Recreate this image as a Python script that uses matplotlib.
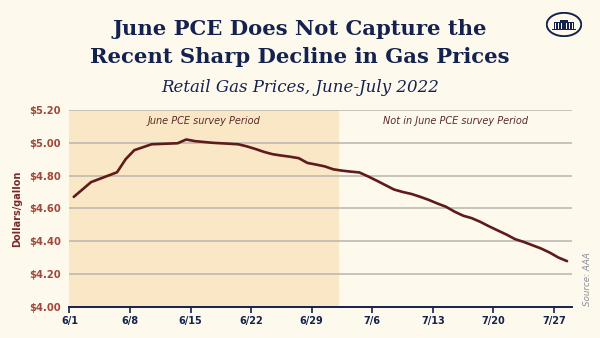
import numpy as np
import matplotlib.pyplot as plt
from matplotlib.patches import Ellipse, Rectangle

# AAA national average retail gas price, daily 6/1 - 7/28 (2022)
days = np.arange(58)
prices = [4.67, 4.715, 4.76, 4.78, 4.80, 4.82, 4.90, 4.955, 4.973, 4.991,
          4.993, 4.995, 4.997, 5.02, 5.01, 5.005, 5.00, 4.997, 4.994, 4.991,
          4.978, 4.962, 4.944, 4.93, 4.922, 4.915, 4.906, 4.877, 4.867, 4.856,
          4.838, 4.83, 4.824, 4.819, 4.795, 4.769, 4.742, 4.715, 4.70, 4.688,
          4.671, 4.652, 4.63, 4.61, 4.58, 4.555, 4.54, 4.517, 4.49, 4.465,
          4.44, 4.412, 4.395, 4.375, 4.355, 4.33, 4.30, 4.278]
tick_days = [0, 7, 14, 21, 28, 35, 42, 49, 56]
tick_labels = ["6/1", "6/8", "6/15", "6/22", "6/29", "7/6", "7/13", "7/20", "7/27"]
y_ticks = [4.0, 4.2, 4.4, 4.6, 4.8, 5.0, 5.2]
survey_end = 31.2

BG = "#FDF9EC"
SHADE = "#FAE7C6"
NAVY = "#14224F"
MAROON = "#5E1A1C"
RUST = "#A0483C"
SANS = "DejaVu Sans"

fig = plt.figure(figsize=(6, 3.38), dpi=100, facecolor=BG)
ax = fig.add_axes([0.115, 0.0926, 0.838, 0.582])
ax.set_facecolor(BG)

ax.axvspan(0, survey_end, color=SHADE, lw=0, zorder=0)
for v in y_ticks[1:]:
    ax.axhline(v, color="#B9B5AE", lw=1.1, zorder=1)

# prices are midday readings
ax.plot(days + 0.5, prices, color=MAROON, lw=1.9, zorder=3,
        solid_joinstyle="round", solid_capstyle="round")

ax.set_xlim(-0.05, 58.05)
ax.set_ylim(4.0, 5.2)
ax.set_xticks(tick_days)
ax.set_xticklabels(tick_labels)
ax.set_yticks(y_ticks)
ax.set_yticklabels([f"${v:.2f}" for v in y_ticks])

for s in ["top", "right", "left"]:
    ax.spines[s].set_visible(False)
ax.spines["bottom"].set_color(NAVY)
ax.spines["bottom"].set_linewidth(1.4)
ax.tick_params(axis="x", colors=NAVY, length=4, width=1.2, pad=3)
ax.tick_params(axis="y", length=0, pad=6)
for lab in ax.get_xticklabels():
    lab.set_fontfamily(SANS)
    lab.set_fontweight("bold")
    lab.set_fontsize(7)
for lab in ax.get_yticklabels():
    lab.set_fontfamily(SANS)
    lab.set_fontweight("bold")
    lab.set_fontsize(7.2)
    lab.set_color(RUST)

ax.set_ylabel("Dollars/gallon", fontfamily=SANS, fontweight="bold",
              fontsize=7, color="#7A2A2A", labelpad=5)

ax.text(survey_end / 2, 5.13, "June PCE survey Period", ha="center", va="center",
        fontsize=7, style="italic", fontfamily=SANS, color="#5A2A2A")
ax.text((survey_end + 58) / 2, 5.13, "Not in June PCE survey Period", ha="center",
        va="center", fontsize=7, style="italic", fontfamily=SANS, color="#5A2A2A")

fig.text(0.5, 0.915, "June PCE Does Not Capture the", ha="center", va="center",
         fontsize=15.2, fontweight="bold", fontfamily="DejaVu Serif", color=NAVY)
fig.text(0.5, 0.83, "Recent Sharp Decline in Gas Prices", ha="center", va="center",
         fontsize=15.2, fontweight="bold", fontfamily="DejaVu Serif", color=NAVY)
fig.text(0.5, 0.742, "Retail Gas Prices, June-July 2022", ha="center", va="center",
         fontsize=12, style="italic", fontfamily="DejaVu Serif", color=NAVY)

fig.text(0.98, 0.175, "Source: AAA", rotation=90, ha="center", va="center",
         fontsize=6.3, style="italic", fontfamily=SANS, color="#8A8C9A")

# seal in the top right corner
logo = fig.add_axes([0.91, 0.89, 0.06, 0.075])
logo.set_xlim(0, 1)
logo.set_ylim(0, 1)
logo.axis("off")
logo.add_patch(Ellipse((0.5, 0.5), 0.96, 0.92, fill=False, ec=NAVY, lw=1.4))
logo.add_patch(Rectangle((0.22, 0.3), 0.56, 0.28, color=NAVY, lw=0))
logo.add_patch(Rectangle((0.18, 0.27), 0.64, 0.04, color=NAVY, lw=0))
logo.add_patch(Rectangle((0.4, 0.58), 0.2, 0.1, color=NAVY, lw=0))
for xc in np.linspace(0.26, 0.74, 7):
    logo.add_patch(Rectangle((xc - 0.012, 0.34), 0.024, 0.2, color=BG, lw=0))

fig.savefig("out.png", dpi=100, facecolor=BG)
